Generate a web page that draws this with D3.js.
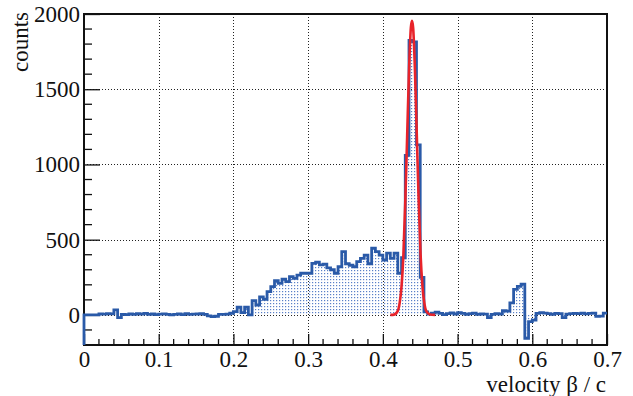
<!DOCTYPE html>
<html>
<head>
<meta charset="utf-8">
<script src="https://cdn.jsdelivr.net/npm/d3@7/dist/d3.min.js"></script>
<style>
    body { margin: 0; background: white; }
    text { font-family: "Liberation Serif", "DejaVu Serif", serif; fill: #111; }
</style>
</head>
<body>
<div id="chart"></div>
<script>

// histogram bins: width 0.005, first bin starts at 0
var binWidth = 0.005;
var binStart = 0;

// 0 .. 0.195
var countsLow = [0, 0, 0, 0, 6, 5, 8, 7, 33, -18,
    4, 2, 6, 3, 8, 5, 10, 4, 6, 2,
    5, 7, 3, 0, 4, 6, 2, 8, 3, 5,
    6, 9, 4, -6, -11, -9, 4, 4, 5, 11];

// 0.2 .. 0.45
var countsRise = [22, 51, 15, 51, 0, 95, 66, 120, 104, 155,
    188, 228, 210, 237, 221, 254, 243, 265, 277, 277,
    277, 343, 350, 332, 338, 312, 300, 277, 320, 420,
    340, 330, 320, 354, 376, 398, 340, 443, 420, 398,
    365, 410, 376, 410, 277, 380, 1060, 1825, 1815, 1130,
    250];

// 0.455 .. 0.695
var countsHigh = [20, 5, 12, 18, 10, 2, 8, 14, 6,
    15, 10, 4, 8, 12, 3, 6, 5, -18, 4,
    8, 6, 28, 25, 80, 170, 190, 205, -155, -45,
    -35, 10, 15, 12, 8, 4, 10, 8, -18, 5,
    8, 10, 9, 12, 7, 10, 12, -10, -8, 12];

// gaussian fit curve
var fitX = [0.41, 0.415, 0.42, 0.4225, 0.425, 0.4275, 0.43, 0.4325, 0.435, 0.4375, 0.439,
    0.4405, 0.443, 0.4455, 0.448, 0.4505, 0.453, 0.4555, 0.458, 0.463, 0.47];
var fitY = [0, 2, 27, 80, 190, 400, 750, 1180, 1620, 1910, 1955,
    1910, 1620, 1180, 750, 400, 190, 80, 27, 3, 0];

var xTicks = [0, 0.1, 0.2, 0.3, 0.4, 0.5, 0.6, 0.7];
var yTicks = [0, 500, 1000, 1500, 2000];

var width = 633, height = 396;
var fLeft = 84, fRight = 607, fTop = 14, fBottom = 345;
var fontSize = '23px';

var counts = countsLow.concat(countsRise, countsHigh);
var bins = counts.map(function (v, i) {
    return {x: binStart + i * binWidth, v: v};
});
bins.push({x: binStart + counts.length * binWidth, v: counts[counts.length - 1]});

var x = d3.scaleLinear().domain([0, 0.7]).range([fLeft, fRight]);
var y = d3.scaleLinear().domain([-200, 2000]).range([fBottom, fTop]);

var svg = d3.select('#chart').append('svg')
    .attr('width', width)
    .attr('height', height)
    .style('background', 'white');

var defs = svg.append('defs');
var pat = defs.append('pattern')
    .attr('id', 'dots')
    .attr('width', 3)
    .attr('height', 3)
    .attr('patternUnits', 'userSpaceOnUse');
pat.append('rect')
    .attr('width', 1.2)
    .attr('height', 1.2)
    .attr('fill', '#5a80c8');

// grid
var grid = svg.append('g')
    .attr('stroke', '#222')
    .attr('stroke-width', 1)
    .attr('stroke-dasharray', '1,2');

grid.selectAll('.gx')
    .data(xTicks.filter(function (d) { return d > 0 && d < 0.7; }))
    .enter().append('line')
    .attr('x1', function (d) { return Math.round(x(d)) + 0.5; })
    .attr('x2', function (d) { return Math.round(x(d)) + 0.5; })
    .attr('y1', fTop)
    .attr('y2', fBottom);

grid.selectAll('.gy')
    .data(yTicks.filter(function (d) { return d < 2000; }))
    .enter().append('line')
    .attr('y1', function (d) { return Math.round(y(d)) + 0.5; })
    .attr('y2', function (d) { return Math.round(y(d)) + 0.5; })
    .attr('x1', fLeft)
    .attr('x2', fRight);

// histogram fill
var area = d3.area()
    .x(function (d) { return x(d.x); })
    .y0(y(0))
    .y1(function (d) { return y(d.v); })
    .curve(d3.curveStepAfter);

svg.append('path')
    .datum(bins)
    .attr('d', area)
    .attr('fill', 'url(#dots)');

// axes
var xAxis = d3.axisBottom(x)
    .tickValues(xTicks)
    .tickSize(-11)
    .tickPadding(6)
    .tickFormat(function (d) { return d === 0 ? '0' : d3.format('.1f')(d); });

var yAxis = d3.axisLeft(y)
    .tickValues(yTicks)
    .tickSize(-16)
    .tickPadding(4)
    .tickFormat(d3.format('d'));

var gx = svg.append('g')
    .attr('transform', 'translate(0,' + fBottom + ')')
    .call(xAxis);
var gy = svg.append('g')
    .attr('transform', 'translate(' + fLeft + ',0)')
    .call(yAxis);

[gx, gy].forEach(function (g) {
    g.select('.domain').remove();
    g.selectAll('line').attr('stroke', '#111').attr('stroke-width', 1.3);
    g.selectAll('text')
        .style('font-family', '"Liberation Serif", serif')
        .style('font-size', fontSize)
        .attr('fill', '#111');
});

// minor ticks
svg.append('g').selectAll('line')
    .data(d3.range(0.02, 0.7, 0.02).filter(function (d) { return Math.abs(d * 10 - Math.round(d * 10)) > 1e-6; }))
    .enter().append('line')
    .attr('x1', function (d) { return x(d); })
    .attr('x2', function (d) { return x(d); })
    .attr('y1', fBottom)
    .attr('y2', fBottom - 6)
    .attr('stroke', '#111')
    .attr('stroke-width', 1.3);

svg.append('g').selectAll('line')
    .data(d3.range(-100, 2000, 100).filter(function (d) { return d % 500 !== 0; }))
    .enter().append('line')
    .attr('y1', function (d) { return y(d); })
    .attr('y2', function (d) { return y(d); })
    .attr('x1', fLeft)
    .attr('x2', fLeft + 8)
    .attr('stroke', '#111')
    .attr('stroke-width', 1.3);

// frame
svg.append('rect')
    .attr('x', fLeft)
    .attr('y', fTop)
    .attr('width', fRight - fLeft)
    .attr('height', fBottom - fTop)
    .attr('fill', 'none')
    .attr('stroke', '#111')
    .attr('stroke-width', 2);

// histogram outline (starts from the frame bottom like ROOT does)
var line = d3.line()
    .x(function (d) { return x(d.x); })
    .y(function (d) { return y(d.v); })
    .curve(d3.curveStepAfter);

svg.append('path')
    .attr('d', 'M' + x(binStart) + ',' + fBottom + 'L' + line(bins).slice(1))
    .attr('fill', 'none')
    .attr('stroke', '#2a5aa8')
    .attr('stroke-width', 2.8)
    .attr('stroke-linejoin', 'miter');

// fit
var fitLine = d3.line()
    .x(function (d, i) { return x(fitX[i]); })
    .y(function (d) { return y(d); })
    .curve(d3.curveMonotoneX);

svg.append('path')
    .attr('d', fitLine(fitY))
    .attr('fill', 'none')
    .attr('stroke', '#e8232a')
    .attr('stroke-width', 2.6);

// titles
svg.append('text')
    .attr('transform', 'translate(28,12) rotate(-90)')
    .attr('text-anchor', 'end')
    .style('font-size', fontSize)
    .text('counts');

svg.append('text')
    .attr('x', 606)
    .attr('y', 392)
    .attr('text-anchor', 'end')
    .style('font-size', fontSize)
    .text('velocity β / c');

</script>
</body>
</html>
